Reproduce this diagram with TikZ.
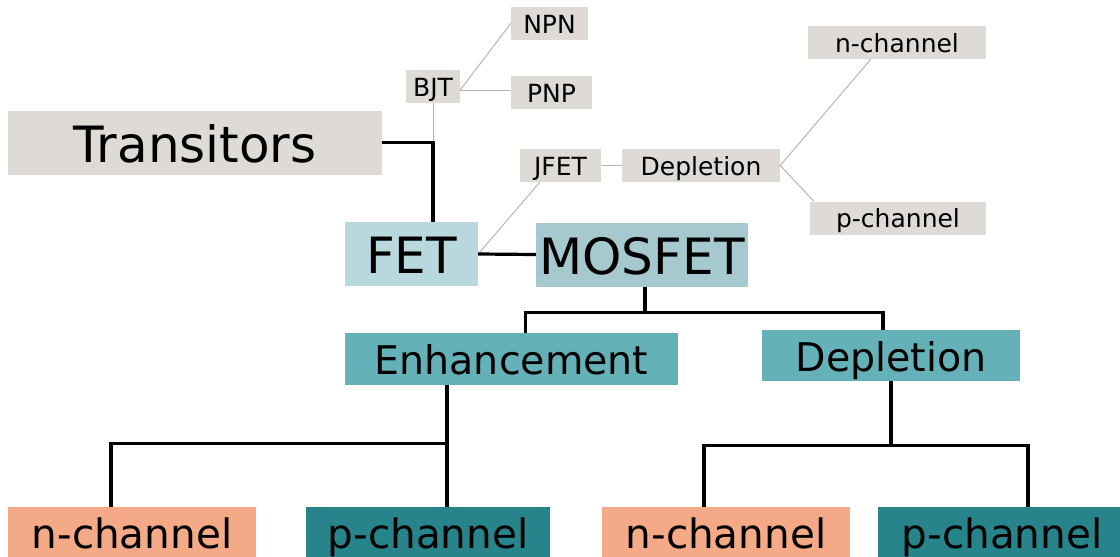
\documentclass[tikz,border=0pt]{standalone}
\usepackage{fontspec}
\setmainfont{DejaVu Sans}
\usetikzlibrary{positioning}

\definecolor{paper}{HTML}{DEDBD7}
\definecolor{fetblue}{HTML}{B8D8DD}
\definecolor{mosblue}{HTML}{A6C9CF}
\definecolor{modeteal}{HTML}{64B1B8}
\definecolor{nsalmon}{HTML}{F4A987}
\definecolor{pteal}{HTML}{27848A}
\definecolor{linegray}{HTML}{B5B5B5}

\begin{document}
\begin{tikzpicture}[
  x=1pt, y=-1pt,
  box/.style={rectangle, inner sep=0pt, text=black},
  small/.style={box, fill=paper, font=\fontsize{25}{29}\selectfont,
                text height=22pt, text depth=2.5pt, minimum height=33pt},
  huge/.style={box, font=\fontsize{50}{57}\selectfont,
               text height=44.5pt, text depth=5pt, minimum height=64pt},
  mid/.style={box, font=\fontsize{39.5}{46}\selectfont,
              text height=35pt, text depth=4pt, minimum height=52pt},
  leaf/.style={box, font=\fontsize{40.5}{46}\selectfont,
               text height=36pt, text depth=4pt, minimum height=50pt},
  link/.style={line width=3.2pt, draw=black},
  twig/.style={line width=1pt, draw=linegray}
]
\useasboundingbox (0,0) rectangle (1120,557);

% top of the tree
\node[huge, fill=paper, minimum width=374pt] (trans) at (195,142.5) {Transitors};
\node[small, minimum width=54pt]  (bjt)  at (433,86.5)  {BJT};
\node[small, minimum width=77pt]  (npn)  at (549.5,23.5) {NPN};
\node[small, minimum width=81pt]  (pnp)  at (551.5,92.5) {PNP};
\node[small, minimum width=81pt]  (jfet) at (560.5,165.5) {JFET};
\node[small, minimum width=158pt] (jdep) at (701,165.5) {Depletion};
\node[small, minimum width=178pt] (jn)   at (897,42.5) {n-channel};
\node[small, minimum width=176pt] (jp)   at (898,218) {p-channel};

% field effect branch
\node[huge, fill=fetblue, minimum width=133pt] (fet) at (411.5,254) {FET};
\node[huge, fill=mosblue, minimum width=212pt] (mos) at (642,254.5) {MOSFET};
\node[mid, fill=modeteal, minimum width=333pt] (enh) at (511.5,359) {Enhancement};
\node[mid, fill=modeteal, minimum width=258pt, minimum height=51pt] (dep) at (891,355.5) {Depletion};

% channel types
\node[leaf, fill=nsalmon, minimum width=248pt] (en) at (132,532) {n-channel};
\node[leaf, fill=pteal, minimum width=244pt]   (ep) at (428,532) {p-channel};
\node[leaf, fill=nsalmon, minimum width=248pt] (dn) at (726,532) {n-channel};
\node[leaf, fill=pteal, minimum width=248pt]   (dp) at (1002,532) {p-channel};

% thin grey links
\coordinate (bjtout) at ([yshift=-3.5pt]bjt.east);
\draw[twig] (bjt.south) -- (bjt.south |- trans.east);
\draw[twig] (bjtout) -- (npn.west);
\draw[twig] (bjtout) -- (pnp.west |- bjtout);
\draw[twig] (fet.east) -- ([xshift=20pt]jfet.south west);
\draw[twig] (jfet.east) -- (jdep.west);
\draw[twig] (jdep.east) -- ([xshift=63pt]jn.south west);
\draw[twig] (jdep.east) -- ([xshift=4pt]jp.north west);

% heavy links
\draw[link] (trans.east) -| (fet.north -| bjt.south);
\draw[link] (fet.east) -- (mos.west);
\draw[link] ([xshift=3pt]mos.south) -- ++(0,26) coordinate (mbus);
\draw[link] ([xshift=14pt]enh.north) |- (mbus) -| ([xshift=-8pt]dep.north);
\draw[link] ([xshift=-64.5pt]enh.south) -- ++(0,58) coordinate (ebus);
\draw[link] ([xshift=-21pt]en.north) |- (ebus) -- ([xshift=19pt]ep.north);
\draw[link] (dep.south) -- ++(0,64.5) coordinate (dbus);
\draw[link] ([xshift=-22pt]dn.north) |- (dbus) -| ([xshift=26pt]dp.north);
\end{tikzpicture}
\end{document}
